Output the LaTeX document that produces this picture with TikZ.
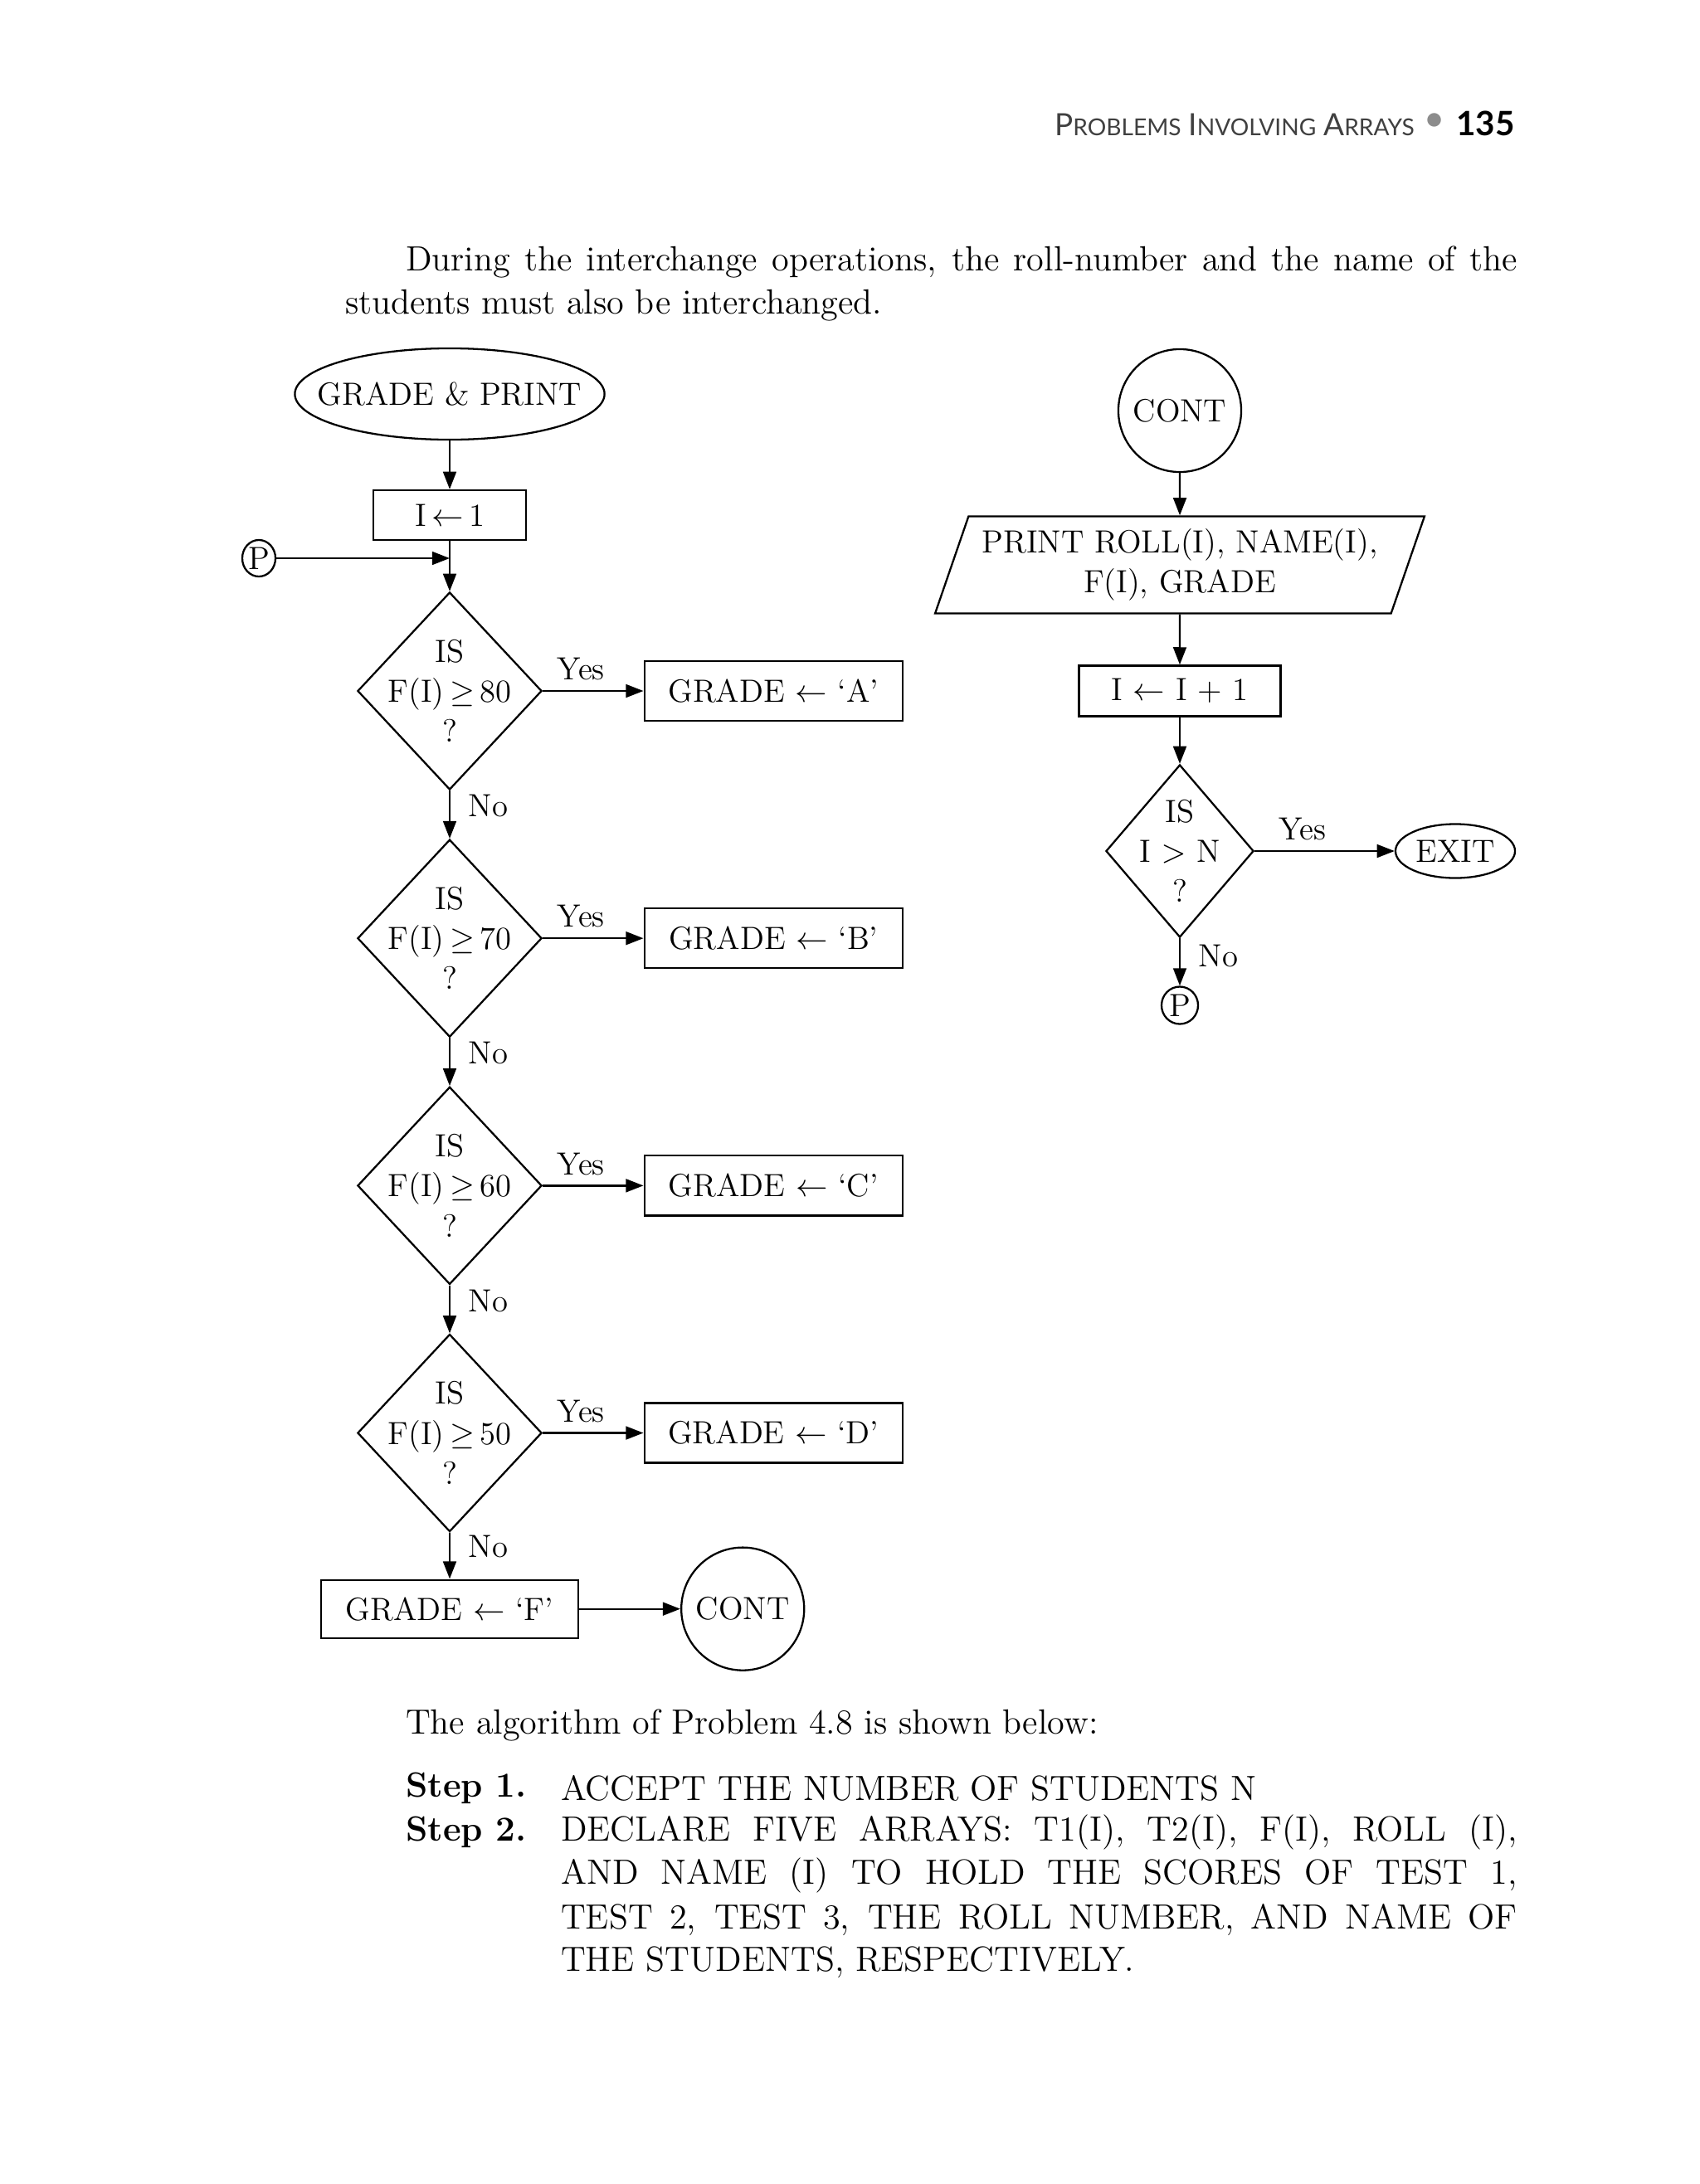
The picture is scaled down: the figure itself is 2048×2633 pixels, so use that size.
\documentclass[tikz,border=0pt]{standalone}
\usepackage{fontspec}
\usetikzlibrary{shapes.geometric,arrows.meta,positioning}
\newfontfamily\headfont{Lato}
\definecolor{headgray}{gray}{0.25}
\definecolor{dotgray}{gray}{0.55}

\begin{document}
\begin{tikzpicture}[x=0.01cm,y=-0.01cm,->,>={Triangle[length=6pt,width=4.5pt]},
        line width=0.65pt,node distance=2.98cm,
        every node/.style={font=\fontsize{11}{13.7}\selectfont},
        proc/.style={draw,rectangle,minimum width=3.11cm,minimum height=0.72cm},
        decision/.style={draw,diamond,minimum width=2.22cm,minimum height=2.38cm,inner sep=0pt},
        term/.style={draw,ellipse,inner sep=0pt},
        conn/.style={draw,circle,minimum size=1.48cm,inner sep=0pt},
        io/.style={draw,trapezium,trapezium left angle=71,trapezium right angle=109,
            text width=4.8cm,align=center,inner xsep=0pt,minimum height=1.17cm},
        nolabel/.style={right,xshift=0.1cm},
        body/.style={font=\fontsize{12}{14.8}\selectfont,anchor=west,inner sep=0pt}]

        \fill[white,-] (0,0) rectangle (2048,2633);
        \useasboundingbox (0,0) rectangle (2048,2633);

        % Page head and text
        \node[anchor=east,inner sep=0pt,font=\headfont\bfseries\fontsize{11.5}{13}\selectfont] (pgno) at (1827,149) {135};
        \node[inner sep=0pt,text=dotgray,font=\fontsize{12}{13}\selectfont] (dot) at (1729,146) {$\bullet$};
        \node[anchor=east,inner sep=0pt,text=headgray,font=\headfont] (head) at (1706,150)
            {{\fontsize{10.5}{12}\selectfont P}{\fontsize{8}{12}\selectfont ROBLEMS} {\fontsize{10.5}{12}\selectfont I}{\fontsize{8}{12}\selectfont NVOLVING} {\fontsize{10.5}{12}\selectfont A}{\fontsize{8}{12}\selectfont RRAYS}};
        \node[body] (par1) at (488,316) {\makebox[13.39cm][s]{During the interchange operations, the roll-number and the name of the}};
        \node[body] (par2) at (415,368) {students must also be interchanged.};

        % Define vertices
        \node[term,minimum width=3.73cm,minimum height=1.1cm] (gp) at (542,475) {\makebox[0pt]{GRADE \& PRINT}};
        \node[proc,minimum width=1.84cm,minimum height=0.6cm] (i1) at (542,621) {I$\,\leftarrow\,$1};
        \node[term,minimum width=0.4cm,minimum height=0.44cm] (p1) at (312,673) {P};
        \coordinate (j1) at (i1.south |- p1);

        \node[decision,label={[align=center]center:IS\\F(I)\,$\geq$\,80\\?}] (d1) at (542,833) {};
        \node[decision,label={[align=center]center:IS\\F(I)\,$\geq$\,70\\?}] (d2) [below of=d1] {};
        \node[decision,label={[align=center]center:IS\\F(I)\,$\geq$\,60\\?}] (d3) [below of=d2] {};
        \node[decision,label={[align=center]center:IS\\F(I)\,$\geq$\,50\\?}] (d4) [below of=d3] {};

        \node[proc] (ga) [right of=d1,node distance=3.9cm] {GRADE $\leftarrow$ `A'};
        \node[proc] (gb) [right of=d2,node distance=3.9cm] {GRADE $\leftarrow$ `B'};
        \node[proc] (gc) [right of=d3,node distance=3.9cm] {GRADE $\leftarrow$ `C'};
        \node[proc] (gd) [right of=d4,node distance=3.9cm] {GRADE $\leftarrow$ `D'};

        \node[proc,minimum width=3.1cm,minimum height=0.7cm] (gf) [below of=d4,node distance=2.12cm] {GRADE $\leftarrow$ `F'};
        \node[conn] (c1) [right of=gf,node distance=3.53cm] {CONT};

        \node[conn] (c2) at (1422,495) {CONT};
        \node[io] (pr) at (1422,681) {PRINT ROLL(I), NAME(I),\\F(I), GRADE};
        \node[proc,minimum width=2.43cm,minimum height=0.61cm] (inc) at (1422,833) {I $\leftarrow$ I + 1};
        \node[decision,minimum width=1.78cm,minimum height=2.08cm,
            label={[align=center]center:IS\\I $>$ N\\?}] (d5) at (1422,1026) {};
        \node[term,minimum width=1.44cm,minimum height=0.65cm] (ex) at (1754,1026) {EXIT};
        \node[term,minimum width=0.44cm,minimum height=0.45cm] (p2) at (1422,1212) {P};

        % Draw edges
        \path
            (gp) edge (i1)
            (i1) edge (d1)
            (p1) edge (j1)
            (d1) edge node[above,pos=0.38] {Yes} (ga)
            (d2) edge node[above,pos=0.38] {Yes} (gb)
            (d3) edge node[above,pos=0.38] {Yes} (gc)
            (d4) edge node[above,pos=0.38] {Yes} (gd)
            (d1) edge node[nolabel,pos=0.32] {No} (d2)
            (d2) edge node[nolabel,pos=0.32] {No} (d3)
            (d3) edge node[nolabel,pos=0.32] {No} (d4)
            (d4) edge node[nolabel,pos=0.3] {No} (gf)
            (gf) edge (c1)
            (c2) edge (pr)
            (pr) edge (inc)
            (inc) edge (d5)
            (d5) edge node[above,pos=0.34] {Yes} (ex)
            (d5) edge node[nolabel,pos=0.37] {No} (p2);

        % Algorithm text
        \node[body] (alg) at (488,2080) {The algorithm of Problem 4.8 is shown below:};
        \node[body] (s1) at (488,2156) {\textbf{Step 1.}};
        \node[body] (s1t) at (675,2156) {ACCEPT THE NUMBER OF STUDENTS N};
        \node[body] (s2) at (488,2209) {\textbf{Step 2.}};
        \node[body] (s2a) at (675,2209) {\makebox[11.52cm][s]{DECLARE FIVE ARRAYS: T1(I), T2(I), F(I), ROLL (I),}};
        \node[body] (s2b) at (675,2261) {\makebox[11.52cm][s]{AND NAME (I) TO HOLD THE SCORES OF TEST 1,}};
        \node[body] (s2c) at (675,2314) {\makebox[11.52cm][s]{TEST 2, TEST 3, THE ROLL NUMBER, AND NAME OF}};
        \node[body] (s2d) at (675,2366) {THE STUDENTS, RESPECTIVELY.};

\end{tikzpicture}
\end{document}
